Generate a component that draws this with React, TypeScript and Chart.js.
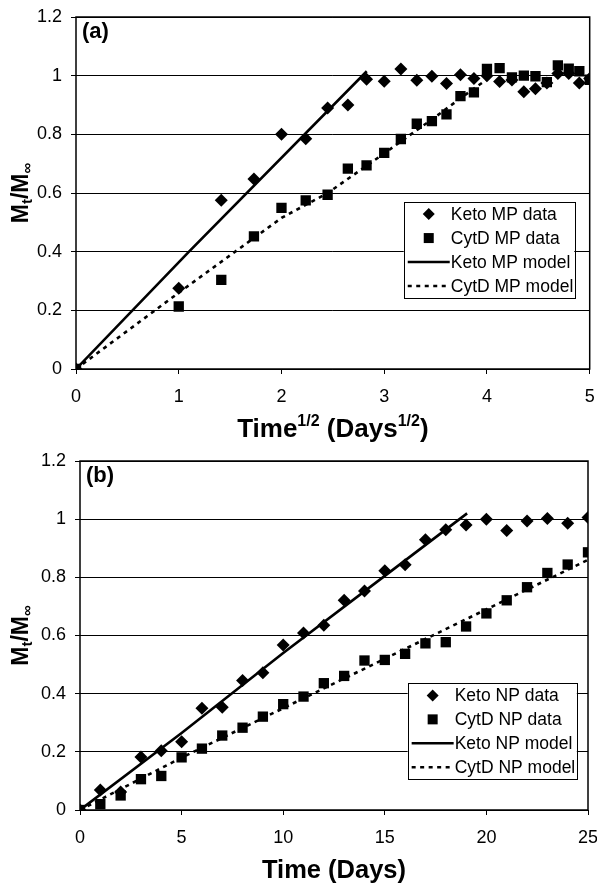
import React, { useEffect, useRef } from 'react';
import { Chart, registerables } from 'chart.js';

Chart.register(...registerables);

const FONT = '"Liberation Sans", Arial, Helvetica, sans-serif';

// ---------- Panel (a): Time^1/2 ----------
const sqrtDays: number[] = [0, 1, 1.414, 1.732, 2, 2.236, 2.449, 2.646, 2.828, 3, 3.162, 3.317, 3.464, 3.606, 3.742, 3.873, 4, 4.123, 4.243, 4.359, 4.472, 4.583, 4.69, 4.796, 4.899, 5];
const ketoMP: number[] = [0, 0.275, 0.575, 0.648, 0.8, 0.785, 0.89, 0.9, 0.988, 0.981, 1.023, 0.984, 0.998, 0.973, 1.003, 0.99, 1.0, 0.98, 0.985, 0.945, 0.955, 0.975, 1.007, 1.007, 0.975, 0.99];
const cytdMP: number[] = [0, 0.213, 0.304, 0.452, 0.549, 0.575, 0.594, 0.683, 0.694, 0.737, 0.784, 0.836, 0.845, 0.868, 0.93, 0.943, 1.023, 1.026, 0.994, 1.0, 0.998, 0.978, 1.035, 1.024, 1.015, 0.986];
const ketoMPModelX: number[] = [0, 1.1, 2.83];
const ketoMPModelY: number[] = [0, 0.4, 1.015];
const cytdMPModelX: number[] = [0, 1, 2, 2.45, 3, 3.5, 3.75, 4.05];
const cytdMPModelY: number[] = [0, 0.26, 0.515, 0.6, 0.735, 0.86, 0.925, 1.0];

// ---------- Panel (b): Time ----------
const days: number[] = [0, 1, 2, 3, 4, 5, 6, 7, 8, 9, 10, 11, 12, 13, 14, 15, 16, 17, 18, 19, 20, 21, 22, 23, 24, 25];
const ketoNP: number[] = [0, 0.069, 0.062, 0.182, 0.204, 0.235, 0.35, 0.353, 0.445, 0.472, 0.567, 0.609, 0.635, 0.721, 0.753, 0.823, 0.843, 0.929, 0.964, 0.98, 1.0, 0.961, 0.994, 1.002, 0.986, 1.006];
const cytdNP: number[] = [0, 0.02, 0.05, 0.106, 0.117, 0.181, 0.211, 0.256, 0.283, 0.321, 0.364, 0.39, 0.436, 0.461, 0.514, 0.516, 0.537, 0.573, 0.577, 0.631, 0.676, 0.721, 0.766, 0.815, 0.844, 0.886];
const ketoNPModelX: number[] = [0, 5, 10, 15, 19.05];
const ketoNPModelY: number[] = [0, 0.265, 0.54, 0.805, 1.02];
const cytdNPModelX: number[] = [0, 5, 10, 15, 20, 25];
const cytdNPModelY: number[] = [0, 0.18, 0.35, 0.52, 0.69, 0.86];

const yTicks: number[] = [0, 0.2, 0.4, 0.6, 0.8, 1, 1.2];

const pts = (xs: number[], ys: number[]) => xs.map((x, i) => ({ x, y: ys[i] }));

type Seg = { t: string; size: number; shift: number };

function drawRich(ctx: CanvasRenderingContext2D, segs: Seg[], cx: number, baseline: number) {
  let total = 0;
  const widths: number[] = [];
  for (const s of segs) {
    ctx.font = `bold ${s.size}px ${FONT}`;
    const w = ctx.measureText(s.t).width;
    widths.push(w);
    total += w;
  }
  let x = cx - total / 2;
  ctx.textAlign = 'left';
  ctx.textBaseline = 'alphabetic';
  segs.forEach((s, i) => {
    ctx.font = `bold ${s.size}px ${FONT}`;
    ctx.fillText(s.t, x, baseline + s.shift);
    x += widths[i];
  });
}

type PanelSpec = {
  tag: string;
  xMin: number;
  xMax: number;
  xStep: number;
  xTitle: Seg[];
  padTop: number;
  padRight: number;
  yWidth: number;
  xHeight: number;
  legend: { fx0: number; fx1: number; vTop: number; vBottom: number; labels: string[] };
  datasets: any[];
};

function makePlugin(spec: PanelSpec) {
  return {
    id: 'panelDecor' + spec.tag,
    beforeDatasetsDraw(chart: any) {
      const { ctx, chartArea: a } = chart;
      ctx.save();
      ctx.strokeStyle = '#000';
      ctx.lineWidth = 1.5;
      ctx.strokeRect(a.left, a.top, a.right - a.left, a.bottom - a.top);
      ctx.restore();
    },
    afterDraw(chart: any) {
      const { ctx, chartArea: a } = chart;
      const ys = chart.scales.y;
      ctx.save();
      ctx.fillStyle = '#000';
      // panel tag
      ctx.font = `bold 22px ${FONT}`;
      ctx.textAlign = 'left';
      ctx.textBaseline = 'alphabetic';
      ctx.fillText(spec.tag, a.left + 6, a.top + 21);
      // x title
      drawRich(ctx, spec.xTitle, (a.left + a.right) / 2, a.bottom + 68);
      // y title
      ctx.save();
      ctx.translate(20, (a.top + a.bottom) / 2);
      ctx.rotate(-Math.PI / 2);
      drawRich(
        ctx,
        [
          { t: 'M', size: 23, shift: 0 },
          { t: 't', size: 15, shift: 4 },
          { t: '/M', size: 23, shift: 0 },
          { t: '\u221E', size: 15, shift: 4 },
        ],
        0,
        8
      );
      ctx.restore();
      // legend
      const L = spec.legend;
      const w = a.right - a.left;
      const left = a.left + L.fx0 * w;
      const right = a.left + L.fx1 * w;
      const top = ys.getPixelForValue(L.vTop);
      const bottom = ys.getPixelForValue(L.vBottom);
      ctx.fillStyle = '#fff';
      ctx.fillRect(left, top, right - left, bottom - top);
      ctx.strokeStyle = '#000';
      ctx.lineWidth = 1;
      ctx.strokeRect(Math.round(left) + 0.5, Math.round(top) + 0.5, Math.round(right - left), Math.round(bottom - top));
      const rowH = (bottom - top) / 4;
      ctx.font = `17.5px ${FONT}`;
      ctx.textBaseline = 'middle';
      ctx.textAlign = 'left';
      L.labels.forEach((label, i) => {
        const cy = top + rowH * (i + 0.5);
        const ds = spec.datasets[i];
        ctx.fillStyle = '#000';
        ctx.strokeStyle = '#000';
        if (i === 0) {
          ctx.beginPath();
          ctx.moveTo(left + 25, cy - 6);
          ctx.lineTo(left + 31, cy);
          ctx.lineTo(left + 25, cy + 6);
          ctx.lineTo(left + 19, cy);
          ctx.closePath();
          ctx.fill();
        } else if (i === 1) {
          ctx.fillRect(left + 20, cy - 5, 10, 10);
        } else {
          ctx.lineWidth = ds.borderWidth;
          ctx.setLineDash(ds.borderDash || []);
          ctx.beginPath();
          ctx.moveTo(left + 4, cy);
          ctx.lineTo(left + 46, cy);
          ctx.stroke();
          ctx.setLineDash([]);
        }
        ctx.fillStyle = '#000';
        ctx.fillText(label, left + 47, cy + 1);
      });
      ctx.restore();
    },
  };
}

function makeConfig(spec: PanelSpec): any {
  return {
    type: 'scatter',
    data: { datasets: spec.datasets },
    options: {
      responsive: false,
      animation: false,
      events: [],
      layout: { padding: { left: 0, right: spec.padRight, top: spec.padTop, bottom: 0 } },
      plugins: { legend: { display: false }, tooltip: { enabled: false }, title: { display: false } },
      scales: {
        x: {
          type: 'linear',
          min: spec.xMin,
          max: spec.xMax,
          afterFit: (s: any) => {
            s.height = spec.xHeight;
            s.paddingLeft = 0;
            s.paddingRight = 0;
          },
          ticks: {
            stepSize: spec.xStep,
            color: '#000',
            font: { family: FONT, size: 18 },
            padding: 12,
            maxRotation: 0,
            autoSkip: false,
          },
          grid: { drawOnChartArea: false, drawTicks: true, tickLength: 5, color: '#000', tickColor: '#000', lineWidth: 1 },
          border: { display: false },
        },
        y: {
          type: 'linear',
          min: 0,
          max: 1.2,
          afterFit: (s: any) => {
            s.width = spec.yWidth;
            s.paddingTop = 0;
            s.paddingBottom = 0;
          },
          afterBuildTicks: (s: any) => {
            s.ticks = yTicks.map((v) => ({ value: v }));
          },
          ticks: {
            color: '#000',
            font: { family: FONT, size: 18 },
            padding: 9,
            callback: (v: any) => String(Number(Number(v).toFixed(1))),
          },
          grid: { color: '#000', tickColor: '#000', tickLength: 5, lineWidth: 1, drawTicks: true },
          border: { display: false },
        },
      },
    },
    plugins: [makePlugin(spec)],
  };
}

const diamond = (data: any[]) => ({
  data,
  showLine: false,
  pointStyle: 'rectRot',
  pointRadius: 6.5,
  backgroundColor: '#000',
  borderColor: '#000',
  borderWidth: 0,
});
const square = (data: any[]) => ({
  data,
  showLine: false,
  pointStyle: 'rect',
  pointRadius: 7.3,
  backgroundColor: '#000',
  borderColor: '#000',
  borderWidth: 0,
});
const solid = (data: any[]) => ({
  data,
  showLine: true,
  pointRadius: 0,
  borderColor: '#000',
  borderWidth: 2.6,
  fill: false,
  tension: 0,
});
const dashed = (data: any[]) => ({
  data,
  showLine: true,
  pointRadius: 0,
  borderColor: '#000',
  borderWidth: 2.6,
  borderDash: [4, 4.5],
  fill: false,
  tension: 0,
});

const specA: PanelSpec = {
  tag: '(a)',
  xMin: 0,
  xMax: 5,
  xStep: 1,
  xTitle: [
    { t: 'Time', size: 26, shift: 0 },
    { t: '1/2', size: 16, shift: -11 },
    { t: ' (Days', size: 26, shift: 0 },
    { t: '1/2', size: 16, shift: -11 },
    { t: ')', size: 26, shift: 0 },
  ],
  padTop: 17,
  padRight: 4,
  yWidth: 76,
  xHeight: 74,
  legend: { fx0: 0.638, fx1: 0.97, vTop: 0.569, vBottom: 0.242, labels: ['Keto MP data', 'CytD MP data', 'Keto MP model', 'CytD MP model'] },
  datasets: [
    diamond(pts(sqrtDays, ketoMP)),
    square(pts(sqrtDays, cytdMP)),
    solid(pts(ketoMPModelX, ketoMPModelY)),
    dashed(pts(cytdMPModelX, cytdMPModelY)),
  ],
};

const specB: PanelSpec = {
  tag: '(b)',
  xMin: 0,
  xMax: 25,
  xStep: 5,
  xTitle: [{ t: 'Time (Days)', size: 25.5, shift: 0 }],
  padTop: 18,
  padRight: 9,
  yWidth: 80,
  xHeight: 76,
  legend: { fx0: 0.645, fx1: 0.978, vTop: 0.435, vBottom: 0.106, labels: ['Keto NP data', 'CytD NP data', 'Keto NP model', 'CytD NP model'] },
  datasets: [
    diamond(pts(days, ketoNP)),
    square(pts(days, cytdNP)),
    solid(pts(ketoNPModelX, ketoNPModelY)),
    dashed(pts(cytdNPModelX, cytdNPModelY)),
  ],
};

export default function App() {
  const refA = useRef<HTMLCanvasElement>(null);
  const refB = useRef<HTMLCanvasElement>(null);
  useEffect(() => {
    const a = new Chart(refA.current as HTMLCanvasElement, makeConfig(specA));
    const b = new Chart(refB.current as HTMLCanvasElement, makeConfig(specB));
    return () => {
      a.destroy();
      b.destroy();
    };
  }, []);
  return (
    <div style={{ position: 'absolute', left: 0, top: 0, width: 597, height: 886, background: '#fff' }}>
      <canvas ref={refA} width={597} height={443} style={{ position: 'absolute', left: 0, top: 0, display: 'block' }} />
      <canvas ref={refB} width={597} height={443} style={{ position: 'absolute', left: 0, top: 443, display: 'block' }} />
    </div>
  );
}
